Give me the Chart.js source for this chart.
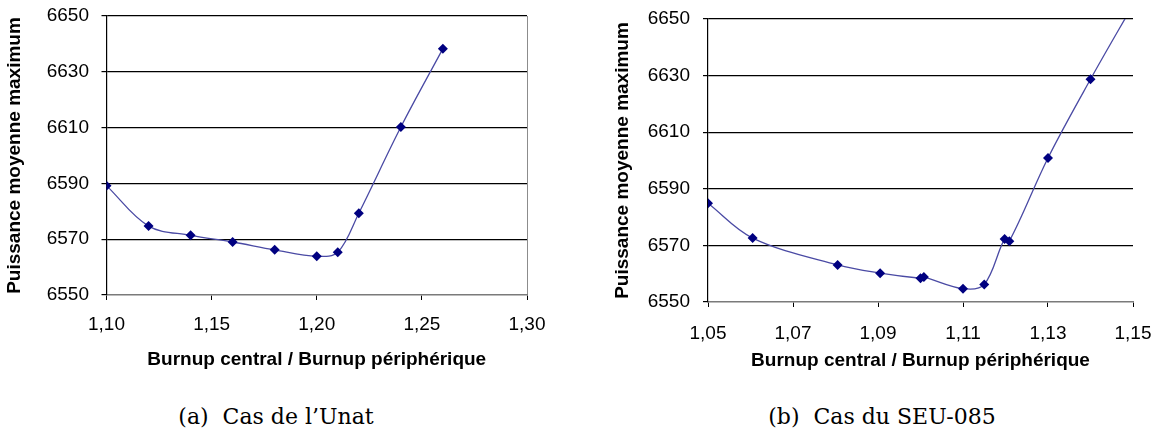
<!DOCTYPE html>
<html>
<head>
<meta charset="utf-8">
<script src="https://cdn.jsdelivr.net/npm/chart.js@4.4.1/dist/chart.umd.min.js"></script>
<style>
body { margin: 0; background: #fff; width: 1154px; height: 438px; overflow: hidden; position: relative; }
canvas { position: absolute; top: 0; }
#chart-unat { left: 0; }
#chart-seu { left: 605px; }
.caption { position: absolute; top: 404px; font-family: "DejaVu Serif", serif; font-size: 22px; color: #000; white-space: nowrap; transform: translateX(-50%); }
</style>
</head>
<body>
<canvas id="chart-unat" width="560" height="371"></canvas>
<canvas id="chart-seu" width="549" height="372"></canvas>
<div class="caption" style="left:276px">(a)&nbsp; Cas de l’Unat</div>
<div class="caption" style="left:882px">(b)&nbsp; Cas du SEU-085</div>
<script>
// (a) Unat
const unatRatio = [1.10, 1.12, 1.14, 1.16, 1.18, 1.20, 1.21, 1.22, 1.24, 1.26];
const unatPower = [6589.2, 6574.7, 6571.4, 6569.0, 6566.2, 6563.9, 6565.3, 6579.3, 6610.2, 6638.3];
const unatTicksX = [1.10, 1.15, 1.20, 1.25, 1.30];

// (b) SEU-085
const seuRatio = [1.05, 1.0605, 1.0805, 1.0905, 1.1, 1.1008, 1.11, 1.115, 1.1198, 1.1209, 1.13, 1.14, 1.15];
const seuPower = [6584.9, 6572.6, 6563.1, 6560.2, 6558.4, 6558.8, 6554.7, 6556.2, 6572.3, 6571.5, 6600.9, 6628.7, 6655];
const seuTicksX = [1.05, 1.07, 1.09, 1.11, 1.13, 1.15];

const powerTicks = [6550, 6570, 6590, 6610, 6630, 6650];
const yTitle = 'Puissance moyenne maximum';
const xTitle = 'Burnup central / Burnup périphérique';

Chart.defaults.font.family = '"Liberation Sans", Arial, sans-serif';
Chart.defaults.color = '#000';

function toPoints(xs, ys) {
    return xs.map((x, i) => ({ x: x, y: ys[i] }));
}

function virgule(v) {
    return v.toFixed(2).replace('.', ',');
}

function makeChart(id, cfg) {
    const lastX = cfg.xTicks.length - 1;
    return new Chart(document.getElementById(id), {
        type: 'line',
        data: {
            datasets: [{
                data: toPoints(cfg.xs, cfg.ys),
                borderColor: '#4a4aa4',
                borderWidth: 1.3,
                tension: 0.35,
                pointStyle: 'rectRot',
                pointRadius: 5,
                pointBackgroundColor: '#000080',
                pointBorderColor: '#000080',
                pointBorderWidth: 0
            }]
        },
        options: {
            responsive: false,
            animation: false,
            devicePixelRatio: 1,
            layout: { padding: cfg.padding },
            plugins: { legend: { display: false }, tooltip: { enabled: false } },
            scales: {
                x: {
                    type: 'linear',
                    min: cfg.xTicks[0],
                    max: cfg.xTicks[lastX],
                    afterBuildTicks: s => { s.ticks = cfg.xTicks.map(v => ({ value: v })); },
                    afterFit: s => {
                        s.height = cfg.xHeight;
                        s.paddingLeft = 0;
                        s.paddingRight = 0;
                    },
                    ticks: { callback: v => virgule(v), font: { size: 19 }, padding: cfg.xPad, maxRotation: 0, autoSkip: false },
                    grid: {
                        color: c => (cfg.rightBorder && c.index === lastX) ? '#8c8c8c' : 'rgba(0,0,0,0)',
                        tickColor: '#000',
                        tickLength: 5
                    },
                    border: { color: '#7a7a7a', width: 1.5 },
                    title: { display: true, text: xTitle, font: { size: 19, weight: 'bold' }, padding: 0 }
                },
                y: {
                    min: 6550,
                    max: 6650,
                    afterBuildTicks: s => { s.ticks = powerTicks.map(v => ({ value: v })); },
                    afterFit: s => {
                        s.width = cfg.yWidth;
                        s.paddingTop = 0;
                        s.paddingBottom = 0;
                    },
                    ticks: { callback: v => String(v), font: { size: 19 }, padding: cfg.yPad },
                    grid: {
                        color: c => (c.tick && c.tick.value === 6550) ? 'rgba(0,0,0,0)' : '#000',
                        tickColor: '#000',
                        tickLength: 5,
                        lineWidth: 1.2
                    },
                    border: { color: '#000', width: 1.2 },
                    title: { display: true, text: yTitle, font: { size: 19, weight: 'bold' }, padding: 0 }
                }
            }
        }
    });
}

makeChart('chart-unat', {
    xs: unatRatio, ys: unatPower, xTicks: unatTicksX,
    padding: { left: 3, top: 16, right: 33, bottom: 0 },
    yWidth: 103.5, xHeight: 76, xPad: 13, yPad: 12.5, rightBorder: true
});

makeChart('chart-seu', {
    xs: seuRatio, ys: seuPower, xTicks: seuTicksX,
    padding: { left: 6, top: 19, right: 21, bottom: 0 },
    yWidth: 97, xHeight: 70, xPad: 15, yPad: 13, rightBorder: false
});
</script>
</body>
</html>
